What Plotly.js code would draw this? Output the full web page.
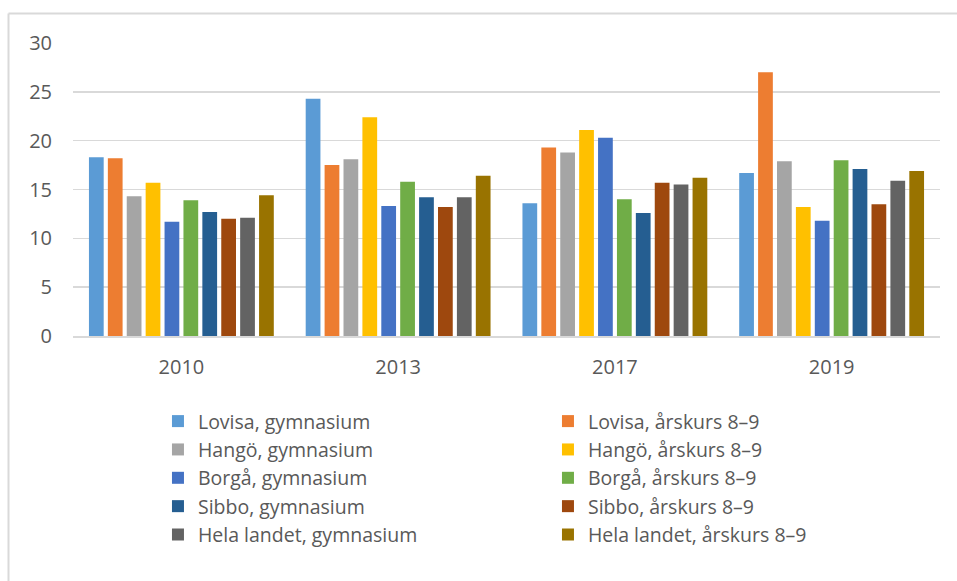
<!DOCTYPE html>
<html>
<head>
<meta charset="utf-8">
<script src="https://cdn.plot.ly/plotly-3.0.1.min.js"></script>
<style>
html,body{margin:0;padding:0;background:#fff;}
#chart{width:957px;height:581px;}
</style>
</head>
<body>
<div id="chart"></div>
<script>
const years = ['2010', '2013', '2017', '2019'];
const seriesNames = [
  'Lovisa, gymnasium', 'Lovisa, årskurs 8–9',
  'Hangö, gymnasium', 'Hangö, årskurs 8–9',
  'Borgå, gymnasium', 'Borgå, årskurs 8–9',
  'Sibbo, gymnasium', 'Sibbo, årskurs 8–9',
  'Hela landet, gymnasium', 'Hela landet, årskurs 8–9'
];
const lovisaGym   = [18.3, 24.3, 13.6, 16.7];
const lovisaAk    = [18.2, 17.5, 19.3, 27.0];
const hangoGym    = [14.3, 18.1, 18.8, 17.9];
const hangoAk     = [15.7, 22.4, 21.1, 13.2];
const borgaGym    = [11.7, 13.3, 20.3, 11.8];
const borgaAk     = [13.9, 15.8, 14.0, 18.0];
const sibboGym    = [12.7, 14.2, 12.6, 17.1];
const sibboAk     = [12.0, 13.2, 15.7, 13.5];
const helaGym     = [12.1, 14.2, 15.5, 15.9];
const helaAk      = [14.4, 16.4, 16.2, 16.9];
const seriesValues = [lovisaGym, lovisaAk, hangoGym, hangoAk, borgaGym, borgaAk, sibboGym, sibboAk, helaGym, helaAk];
const colors = ['#5B9BD5', '#ED7D31', '#A5A5A5', '#FFC000', '#4472C4', '#70AD47', '#255E91', '#9E480E', '#636363', '#997300'];
const yTicks = [0, 5, 10, 15, 20, 25, 30];

const FONT = '"Open Sans", "Noto Sans", sans-serif';
const traces = seriesNames.map((n, i) => ({
  type: 'bar', name: n, x: years, y: seriesValues[i],
  marker: {color: colors[i], line: {width: 0}},
  hoverinfo: 'none'
}));

const layout = {
  width: 957, height: 581,
  margin: {l: 73, r: 17, t: 43, b: 245},
  paper_bgcolor: '#fff', plot_bgcolor: '#fff',
  barmode: 'group', bargap: 0.128, bargroupgap: 0.22,
  font: {family: FONT, color: '#595959', size: 20},
  xaxis: {type: 'category', showgrid: false, zeroline: false, showline: true, linecolor: '#d9d9d9', linewidth: 1.5,
          ticks: '', tickfont: {size: 20, color: '#595959'}, ticklabelstandoff: 12},
  yaxis: {range: [0, 30], tickvals: yTicks, showgrid: true, gridcolor: '#d9d9d9', gridwidth: 1.5,
          zeroline: false, showline: false, ticks: '', tickfont: {size: 20, color: '#595959'}, ticklabelstandoff: 20, fixedrange: true},
  showlegend: true,
  legend: {orientation: 'h', x: 0.098, xanchor: 'left', y: -0.225, yanchor: 'top',
           entrywidth: 345, entrywidthmode: 'pixels', itemwidth: 30,
           font: {size: 19.5, color: '#595959', family: FONT}, traceorder: 'normal', tracegroupgap: 0},
  shapes: [
    {type: 'line', xref: 'paper', yref: 'paper', x0: -0.0744, x1: 1.03, y0: 1.1007, y1: 1.1007, line: {color: '#d9d9d9', width: 2}},
    {type: 'line', xref: 'paper', yref: 'paper', x0: -0.0744, x1: -0.0744, y0: 1.1007, y1: -1.0, line: {color: '#d9d9d9', width: 2}}
  ]
};
Plotly.newPlot('chart', traces, layout, {displayModeBar: false, staticPlot: true});
</script>
</body>
</html>
